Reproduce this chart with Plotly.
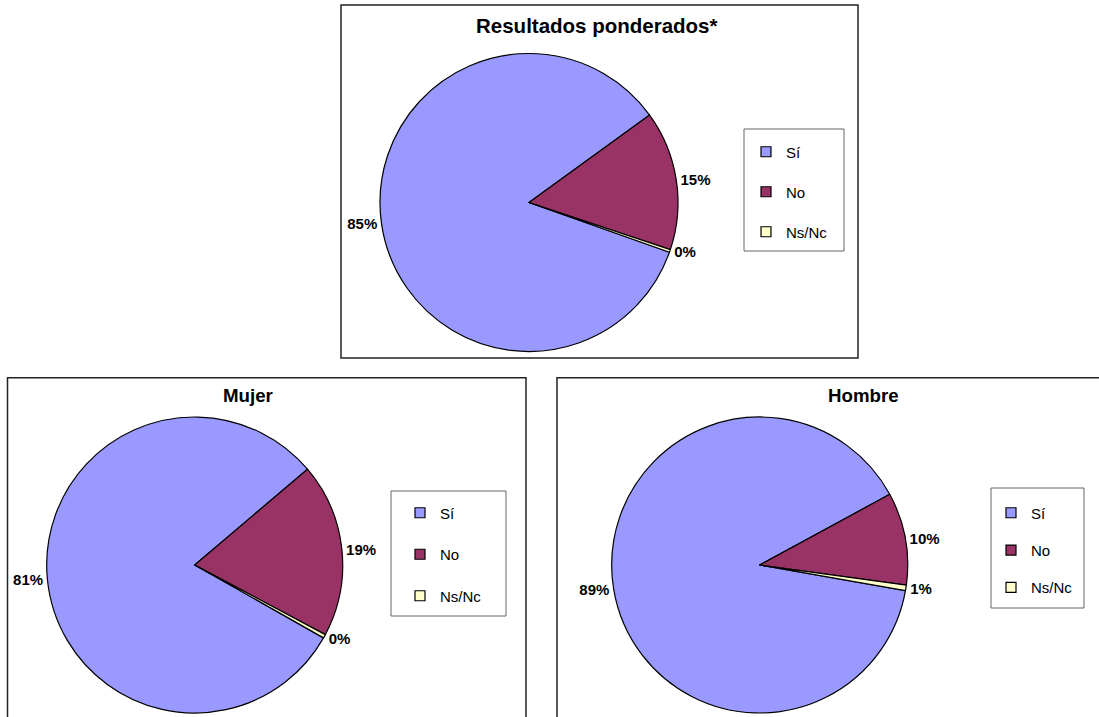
import plotly.graph_objects as go

W, H = 1099, 717
FONT = "Liberation Sans, Arial, sans-serif"

categories = ["Sí", "No", "Ns/Nc"]
colors = ["#9999FF", "#993366", "#FFFFCC"]

ponderados = [84.6, 15.1, 0.3]
mujer = [80.6, 19.0, 0.4]
hombre = [89.3, 10.1, 0.6]

titles = ["Resultados ponderados*", "Mujer", "Hombre"]


def px_x(x):
    return x / W


def px_y(y):
    return 1 - y / H


# (values, centre x, centre y, radius, rotation, legend name)
charts = [
    (ponderados, 529, 202.5, 149, 109.5, "legend"),
    (mujer, 194.7, 565, 148, 119.5, "legend2"),
    (hombre, 759.7, 565, 148, 100, "legend3"),
]

fig = go.Figure()

for values, cx, cy, r, rot, leg in charts:
    fig.add_trace(go.Pie(
        labels=categories,
        values=values,
        sort=False,
        direction="clockwise",
        rotation=rot,
        marker=dict(colors=colors, line=dict(color="black", width=1.2)),
        texttemplate="<b>%{percent:.0%}</b>",
        textposition="outside",
        textfont=dict(family=FONT, size=15, color="black"),
        domain=dict(x=[px_x(cx - r), px_x(cx + r)],
                    y=[px_y(cy + r), px_y(cy - r)]),
        showlegend=False,
        hoverinfo="label+percent",
    ))
    # legend entries, one group per category so the gap can be set
    for cat, col in zip(categories, colors):
        fig.add_trace(go.Scatter(
            x=[None], y=[None], mode="markers", name=cat,
            legend=leg, legendgroup=f"{leg}-{cat}",
            marker=dict(symbol="square", size=10, color=col,
                        line=dict(color="black", width=1.2)),
        ))

# chart frames and legend boxes
boxes = [
    (341, 5, 858, 358, "#222222", 1.5),
    (7.5, 377.7, 526, 730, "#222222", 1.5),
    (557, 377.7, 1110, 730, "#222222", 1.5),
    (744, 129, 844, 251, "#666666", 1),
    (391, 491, 506, 616, "#666666", 1),
    (991, 488, 1084, 608, "#666666", 1),
]
shapes = [
    dict(type="rect", xref="paper", yref="paper",
         x0=px_x(x0), y0=px_y(y1), x1=px_x(x1), y1=px_y(y0),
         line=dict(color=c, width=w), layer="below")
    for x0, y0, x1, y1, c, w in boxes
]

title_pos = [(597, 25, 20.5), (247.5, 395, 18.7), (863, 395, 18.7)]
annotations = [
    dict(text=f"<b>{t}</b>", x=px_x(x), y=px_y(y), xref="paper", yref="paper",
         showarrow=False, xanchor="center", yanchor="middle",
         font=dict(family=FONT, size=s, color="black"))
    for t, (x, y, s) in zip(titles, title_pos)
]

legend_style = dict(bgcolor="rgba(0,0,0,0)", borderwidth=0,
                    font=dict(family=FONT, size=15, color="black"),
                    xanchor="left", yanchor="top")

fig.update_layout(
    width=W, height=H,
    margin=dict(l=0, r=0, t=0, b=0),
    paper_bgcolor="white",
    plot_bgcolor="white",
    shapes=shapes,
    annotations=annotations,
    xaxis=dict(visible=False),
    yaxis=dict(visible=False),
    legend=dict(x=px_x(746), y=px_y(135.5), tracegroupgap=17.5, **legend_style),
    legend2=dict(x=px_x(400), y=px_y(496.5), tracegroupgap=19, **legend_style),
    legend3=dict(x=px_x(991), y=px_y(496.5), tracegroupgap=14.8, **legend_style),
)

fig.write_html("out.html", config={"displayModeBar": False},
               post_script="document.body.style.margin='0';")
